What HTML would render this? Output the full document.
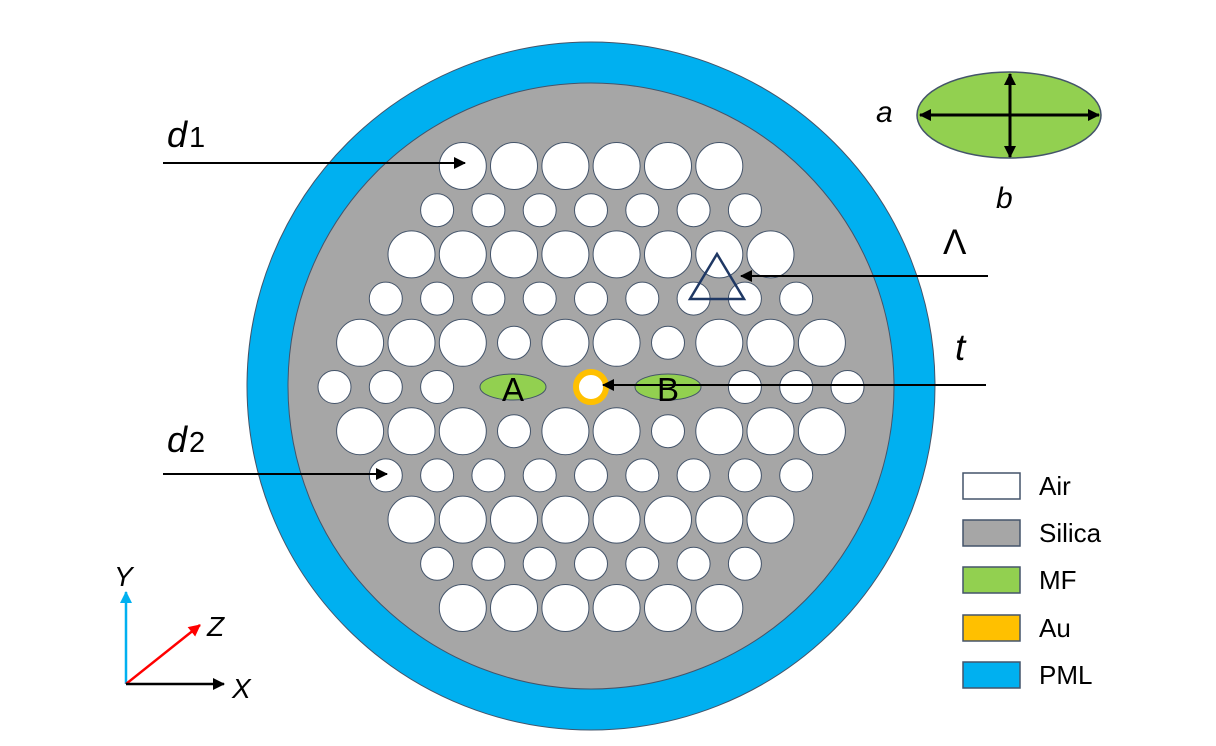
<!DOCTYPE html>
<html><head><meta charset="utf-8"><style>
html,body{margin:0;padding:0;background:#fff;}
svg{display:block;}
text{font-family:"Liberation Sans",sans-serif;}
</style></head><body>
<svg id="s" width="1216" height="746" viewBox="0 0 1216 746" xmlns="http://www.w3.org/2000/svg">
<defs>
<marker id="ah" markerWidth="12" markerHeight="12" refX="11" refY="6" orient="auto" markerUnits="userSpaceOnUse"><path d="M0,0 L12,6 L0,12 z" fill="#000"/></marker>
<marker id="ahs" markerWidth="12" markerHeight="12" refX="1" refY="6" orient="auto" markerUnits="userSpaceOnUse"><path d="M12,0 L0,6 L12,12 z" fill="#000"/></marker>
<marker id="ahb" markerWidth="12" markerHeight="12" refX="11" refY="6" orient="auto" markerUnits="userSpaceOnUse"><path d="M0,0 L12,6 L0,12 z" fill="#00b0f0"/></marker>
<marker id="ahr" markerWidth="12" markerHeight="12" refX="11" refY="6" orient="auto" markerUnits="userSpaceOnUse"><path d="M0,0 L12,6 L0,12 z" fill="#ff0000"/></marker>
</defs>
<circle cx="591" cy="386" r="344" fill="#00b0f0" stroke="#44546a" stroke-width="1"/>
<circle cx="591" cy="386" r="303" fill="#a6a6a6" stroke="#44546a" stroke-width="1"/>
<g id="holes"></g>
<ellipse cx="513" cy="387" rx="33" ry="13" fill="#92d050" stroke="#44546a" stroke-width="1"/>
<ellipse cx="668" cy="387" rx="33" ry="13" fill="#92d050" stroke="#44546a" stroke-width="1"/>
<text x="513" y="401" font-size="33" text-anchor="middle" fill="#000">A</text>
<text x="668" y="401" font-size="33" text-anchor="middle" fill="#000">B</text>
<circle cx="591" cy="387" r="15" fill="#fff" stroke="#ffc000" stroke-width="6"/>
<polygon points="717,254 690,299 744,299" fill="none" stroke="#1f3864" stroke-width="2.5"/>
<line x1="163" y1="163" x2="465" y2="163" stroke="#000" stroke-width="2" marker-end="url(#ah)"/>
<line x1="163" y1="474" x2="387" y2="474" stroke="#000" stroke-width="2" marker-end="url(#ah)"/>
<line x1="988" y1="276" x2="741" y2="276" stroke="#000" stroke-width="2" marker-end="url(#ah)"/>
<line x1="986" y1="385" x2="603" y2="385" stroke="#000" stroke-width="2" marker-end="url(#ah)"/>
<text x="167" y="147" font-size="36" font-style="italic">d</text><text x="189" y="147" font-size="29">1</text>
<text x="167" y="452" font-size="36" font-style="italic">d</text><text x="189" y="452" font-size="29">2</text>
<text x="943" y="254" font-size="35">Λ</text>
<text x="955" y="360" font-size="37" font-style="italic">t</text>
<ellipse cx="1009" cy="115" rx="92" ry="43" fill="#92d050" stroke="#44546a" stroke-width="1.5"/>
<line x1="920" y1="115" x2="1099" y2="115" stroke="#000" stroke-width="3" marker-end="url(#ah)" marker-start="url(#ahs)"/>
<line x1="1010" y1="74" x2="1010" y2="157" stroke="#000" stroke-width="3" marker-end="url(#ah)" marker-start="url(#ahs)"/>
<text x="876" y="122" font-size="30" font-style="italic">a</text>
<text x="996" y="208" font-size="30" font-style="italic">b</text>
<line x1="126" y1="684" x2="126" y2="592" stroke="#00b0f0" stroke-width="2.5" marker-end="url(#ahb)"/>
<line x1="126" y1="684" x2="200" y2="625" stroke="#ff0000" stroke-width="2.5" marker-end="url(#ahr)"/>
<line x1="126" y1="684" x2="224" y2="684" stroke="#000" stroke-width="2.5" marker-end="url(#ah)"/>
<text x="114" y="586" font-size="28" font-style="italic">Y</text>
<text x="207" y="636" font-size="28" font-style="italic">Z</text>
<text x="232" y="698" font-size="28" font-style="italic">X</text>
<rect x="963" y="473" width="57" height="26" fill="#fff" stroke="#44546a" stroke-width="1.5"/>
<rect x="963" y="520" width="57" height="26" fill="#a6a6a6" stroke="#44546a" stroke-width="1.5"/>
<rect x="963" y="567" width="57" height="26" fill="#92d050" stroke="#44546a" stroke-width="1.5"/>
<rect x="963" y="615" width="57" height="26" fill="#ffc000" stroke="#44546a" stroke-width="1.5"/>
<rect x="963" y="662" width="57" height="26" fill="#00b0f0" stroke="#44546a" stroke-width="1.5"/>
<text x="1039" y="495" font-size="26">Air</text>
<text x="1039" y="542" font-size="26">Silica</text>
<text x="1039" y="589" font-size="26">MF</text>
<text x="1039" y="637" font-size="26">Au</text>
<text x="1039" y="684" font-size="26">PML</text>
</svg>
<script>
(function(){
var g=document.getElementById('holes'),cx=591,cy=387,p=51.3,dy=44.2,L=23.5,S=16.5,out='';
function c(x,y,r){out+='<circle cx="'+x.toFixed(1)+'" cy="'+y.toFixed(1)+'" r="'+r+'" fill="#fff" stroke="#44546a" stroke-width="1"/>';}
var rows={'-5':[6,L],'-4':[7,S],'-3':[8,L],'-2':[9,S],'2':[9,S],'3':[8,L],'4':[7,S],'5':[6,L]};
for(var k in rows){var n=rows[k][0],r=rows[k][1],y=cy+(+k)*dy;for(var i=0;i<n;i++){c(cx+(i-(n-1)/2)*p,y,r);}}
[-1,1].forEach(function(k){var y=cy+k*dy;[-4.5,-3.5,-2.5,-1.5,-0.5,0.5,1.5,2.5,3.5,4.5].forEach(function(o){c(cx+o*p,y,(o==-1.5||o==1.5)?S:L);});});
[-5,-4,-3,3,4,5].forEach(function(o){c(cx+o*p,cy,S);});
g.innerHTML=out;
})();
</script>
</body></html>
